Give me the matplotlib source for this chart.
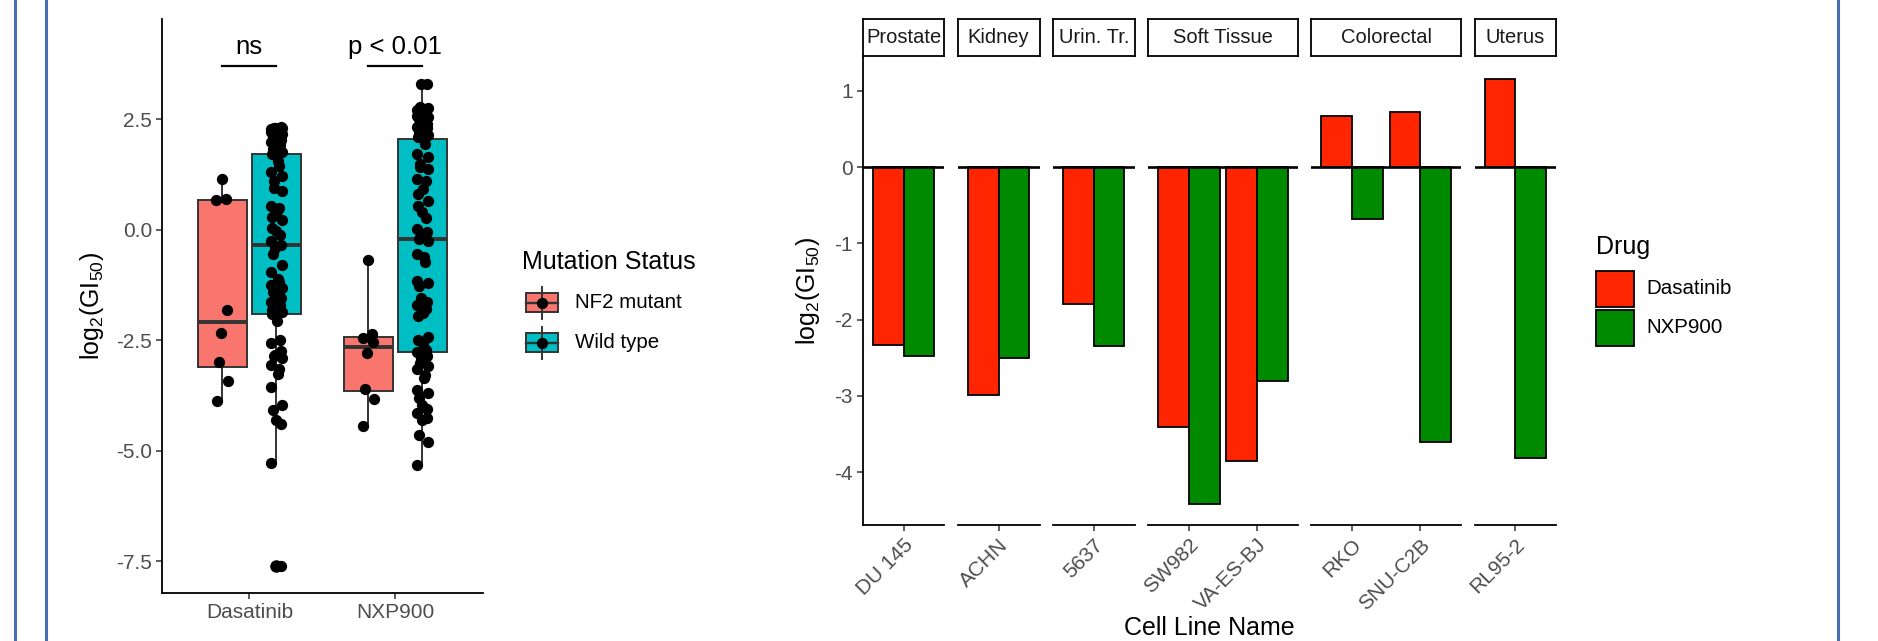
import numpy as np
import matplotlib
matplotlib.use('Agg')
import matplotlib.pyplot as plt
from matplotlib.patches import Rectangle

plt.rcParams['font.family'] = ['Liberation Sans', 'DejaVu Sans']
plt.rcParams['axes.unicode_minus'] = False
plt.rcParams['mathtext.fontset'] = 'custom'
plt.rcParams['mathtext.rm'] = 'Liberation Sans'
plt.rcParams['mathtext.it'] = 'Liberation Sans:italic'

# ---- left panel: log2(GI50) by drug and NF2 status ----
drugs = ['Dasatinib', 'NXP900']
status = ['NF2 mutant', 'Wild type']
status_colors = ['#F8766D', '#00BFC4']

dasatinib_nf2 = [1.15, 0.70, 0.67, -1.81, -2.34, -2.99, -3.42, -3.87]
dasatinib_wt = [2.32, 2.31, 2.31, 2.30, 2.29, 2.28, 2.26, 2.22, 2.18, 2.13, 2.08,
                2.03, 1.98, 1.93, 1.88, 1.82, 1.77, 1.72,
                1.55, 1.45, 1.30, 1.22, 1.10, 0.95, 0.88, 0.55, 0.50, 0.42,
                0.30, 0.22, 0.05, -0.02, -0.12, -0.25, -0.34,
                -0.42, -0.55, -0.80, -0.95, -1.12, -1.18, -1.25, -1.32, -1.40,
                -1.45, -1.55, -1.62, -1.70, -1.75, -1.82, -1.86, -1.90,
                -2.05, -2.48, -2.55, -2.75, -2.82, -2.85, -2.90, -3.05, -3.15,
                -3.25, -3.55, -3.95, -4.08, -4.30, -4.40, -5.27, -7.60]
nxp900_nf2 = [-0.68, -2.36, -2.45, -2.53, -2.79, -3.60, -3.82, -4.43]
nxp900_wt = [3.31, 3.30, 2.78, 2.75, 2.72, 2.68, 2.62, 2.58, 2.55, 2.50, 2.45,
             2.40, 2.33, 2.30, 2.28, 2.22, 2.15, 2.10, 2.06,
             1.95, 1.72, 1.65, 1.50, 1.42, 1.38, 1.15, 1.10, 0.92, 0.82,
             0.65, 0.55, 0.40, 0.28, 0.02, -0.05, -0.12, -0.20,
             -0.25, -0.55, -0.62, -0.72, -1.15, -1.20, -1.28, -1.55, -1.62,
             -1.70, -1.78, -1.88, -1.95, -2.42, -2.50, -2.55, -2.72, -2.77,
             -2.85, -2.90, -3.00, -3.08, -3.15, -3.28, -3.35, -3.62, -3.70,
             -3.80, -3.95, -4.05, -4.15, -4.25, -4.30, -4.65, -4.80, -5.31]
p_labels = ['ns', 'p < 0.01']

# ---- right panel: per cell line ----
tissues = ['Prostate', 'Kidney', 'Urin. Tr.', 'Soft Tissue', 'Colorectal', 'Uterus']
tissue_lines = [['DU 145'], ['ACHN'], ['5637'], ['SW982', 'VA-ES-BJ'],
                ['RKO', 'SNU-C2B'], ['RL95-2']]
dasatinib_gi50 = [[-2.34], [-2.99], [-1.80], [-3.41, -3.86], [0.67, 0.72], [1.15]]
nxp900_gi50 = [[-2.48], [-2.51], [-2.35], [-4.42, -2.80], [-0.68, -3.61], [-3.82]]
drug_colors = ['#FF2500', '#008A00']

W, H = 1878, 641
fig = plt.figure(figsize=(W / 100, H / 100), dpi=100)


def fbox(x0, y0, x1, y1):
    return [x0 / W, 1 - y1 / H, (x1 - x0) / W, (y1 - y0) / H]


tick_col = '#4D4D4D'
tick_fs = 15
title_fs = 18
ylab = r'$\mathregular{log_2(GI_{50})}$'

# left boxplot
ax = fig.add_axes(fbox(161.7, 19, 483, 593.3))
dodge = 0.185
groups = [[dasatinib_nf2, dasatinib_wt], [nxp900_nf2, nxp900_wt]]
for i, grp in enumerate(groups):
    for j, vals in enumerate(grp):
        pos = i + 1 + (2 * j - 1) * dodge
        ax.boxplot([vals], positions=[pos], widths=0.334, patch_artist=True,
                   showcaps=False, manage_ticks=False,
                   boxprops=dict(facecolor=status_colors[j], edgecolor='#333333', linewidth=1.4),
                   medianprops=dict(color='#333333', linewidth=2.8),
                   whiskerprops=dict(color='#333333', linewidth=1.4),
                   flierprops=dict(marker='o', markerfacecolor='black',
                                   markeredgecolor='black', markersize=8))
        k = np.arange(len(vals))
        jit = 0.04 * np.sin(k * 2.4 + j)
        ax.scatter(pos + jit, vals, s=66, color='black', linewidths=0, zorder=3)

for i, lab in enumerate(p_labels):
    ax.plot([i + 1 - dodge, i + 1 + dodge], [3.70, 3.70], color='black', lw=1.6)
    ax.text(i + 1, 3.98, lab, ha='center', va='baseline', fontsize=18.5)

ax.set_xlim(0.4, 2.6)
ax.set_ylim(-8.22, 4.77)
ax.set_xticks([1, 2], drugs)
yt = [-7.5, -5.0, -2.5, 0.0, 2.5]
ax.set_yticks(yt, ['%.1f' % v for v in yt])
for s in ['top', 'right']:
    ax.spines[s].set_visible(False)
for s in ['left', 'bottom']:
    ax.spines[s].set_linewidth(1.3)
ax.tick_params(length=4, width=1.1, color='#333333', labelsize=tick_fs,
               labelcolor=tick_col, pad=3)

# right faceted bars
x = 862.7
gap, unit = 13.4, 68.1
for t, tissue in enumerate(tissues):
    lines = tissue_lines[t]
    n = len(lines)
    w = (n + 0.2) * unit
    axf = fig.add_axes(fbox(x, 57.3, x + w, 525.4))
    idx = np.arange(n)
    axf.bar(idx - 0.225, dasatinib_gi50[t], width=0.45, color=drug_colors[0],
            edgecolor='black', linewidth=1.3)
    axf.bar(idx + 0.225, nxp900_gi50[t], width=0.45, color=drug_colors[1],
            edgecolor='black', linewidth=1.3)
    axf.axhline(0, color='black', lw=1.9)
    axf.set_xlim(-0.6, n - 0.4)
    axf.set_ylim(-4.70, 1.44)
    axf.set_xticks(idx)
    axf.set_xticklabels(lines, rotation=45, ha='right', va='top',
                        rotation_mode='anchor')
    for s in ['top', 'right']:
        axf.spines[s].set_visible(False)
    axf.spines['bottom'].set_linewidth(1.3)
    axf.spines['left'].set_linewidth(1.3)
    axf.tick_params(length=4, width=1.1, color='#333333', labelsize=tick_fs,
                    labelcolor=tick_col, pad=3)
    if t == 0:
        axf.set_yticks([-4, -3, -2, -1, 0, 1])
    else:
        axf.spines['left'].set_visible(False)
        axf.set_yticks([])
    st = fig.add_axes(fbox(x, 19, x + w, 55.7))
    st.set_xticks([])
    st.set_yticks([])
    for s in st.spines.values():
        s.set_linewidth(1.3)
    st.text(0.5, 0.5, tissue, ha='center', va='center', fontsize=14.5,
            color='#1A1A1A', transform=st.transAxes)
    x += w + gap

fig.text(91.8 / W, 1 - 306 / H, ylab, rotation=90, ha='center', va='center', fontsize=title_fs)
fig.text(808 / W, 1 - 291 / H, ylab, rotation=90, ha='center', va='center', fontsize=title_fs)
fig.text(1209.5 / W, 1 - 628 / H, 'Cell Line Name', ha='center', va='center', fontsize=title_fs)

# legends and page border drawn on an overlay in pixel units
ov = fig.add_axes([0, 0, 1, 1], zorder=10)
ov.patch.set_visible(False)
ov.set_xlim(0, W)
ov.set_ylim(H, 0)
ov.axis('off')

ov.text(522.3, 261.7, 'Mutation Status', ha='left', va='center', fontsize=title_fs)
for j, lab in enumerate(status):
    cy = 302.5 + j * 40
    ov.plot([542, 542], [cy - 16, cy + 16], color='#333333', lw=1.4)
    ov.add_patch(Rectangle((525.7, cy - 9.3), 32.6, 18.6, facecolor=status_colors[j],
                           edgecolor='#333333', lw=1.4))
    ov.plot([525.7, 558.3], [cy, cy], color='#333333', lw=1.7)
    ov.scatter([542], [cy], s=66, color='black', linewidths=0, zorder=5)
    ov.text(575, cy, lab, ha='left', va='center', fontsize=14.8)

ov.text(1596, 247, 'Drug', ha='left', va='center', fontsize=title_fs)
for j, lab in enumerate(drugs):
    y0 = 270.6 + j * 38.9
    ov.add_patch(Rectangle((1596, y0), 37.6, 36, facecolor=drug_colors[j],
                           edgecolor='black', lw=1.3))
    ov.text(1646.5, y0 + 18, lab, ha='left', va='center', fontsize=14.8)

for bx in [15, 46, 1838]:
    ov.plot([bx, bx], [0, H], color='#4A6DB5', lw=2.2)

fig.savefig('out.png', dpi=100)
